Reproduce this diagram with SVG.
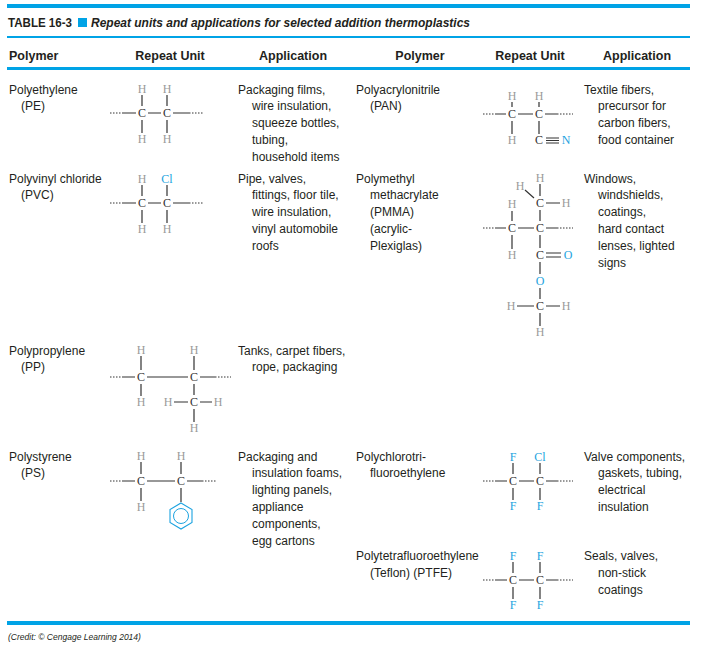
<svg xmlns="http://www.w3.org/2000/svg" width="704" height="649" viewBox="0 0 704 649">
<style>
text{font-family:"Liberation Sans",Arial,sans-serif;fill:#231f20}
.t{font-size:12px}
.h{font-size:12.5px;font-weight:bold}
.a{font-family:"Liberation Serif","DejaVu Serif",serif;font-size:12px;text-anchor:middle;dominant-baseline:central}
.H{fill:#9a9a9a}.C{fill:#333}.B{fill:#1ca3e0}
.b{stroke:#333;stroke-width:1.2;fill:none}
.d{stroke:#333;stroke-width:1;stroke-dasharray:1.5 1.5;fill:none}
.bar{fill:#00a3e6}
</style>
<rect width="704" height="649" fill="#fff"/>
<rect class="bar" x="7" y="4" width="683" height="4"/>
<text x="8" y="27" class="h" textLength="64" lengthAdjust="spacingAndGlyphs">TABLE 16-3</text>
<rect class="bar" x="78" y="18" width="9" height="9"/>
<text x="91" y="27" class="h" font-style="italic" textLength="379" lengthAdjust="spacingAndGlyphs">Repeat units and applications for selected addition thermoplastics</text>
<rect class="bar" x="7" y="36" width="683" height="2"/>
<g class="h">
<text x="9" y="60">Polymer</text>
<text x="170" y="60" text-anchor="middle">Repeat Unit</text>
<text x="293" y="60" text-anchor="middle">Application</text>
<text x="420" y="60" text-anchor="middle">Polymer</text>
<text x="530" y="60" text-anchor="middle">Repeat Unit</text>
<text x="637" y="60" text-anchor="middle">Application</text>
</g>
<rect class="bar" x="7" y="67" width="683" height="3"/>
<rect class="bar" x="7" y="621" width="683" height="4"/>
<text x="8" y="640" font-size="8.5" font-style="italic">(Credit: © Cengage Learning 2014)</text>

<g class="t">
<text x="9" y="94">Polyethylene</text><text x="21" y="110">(PE)</text>
<text x="238" y="94">Packaging films,</text><text x="252" y="110">wire insulation,</text><text x="252" y="127">squeeze bottles,</text><text x="252" y="144">tubing,</text><text x="252" y="161">household items</text>
<text x="356" y="94">Polyacrylonitrile</text><text x="370" y="110">(PAN)</text>
<text x="584" y="94">Textile fibers,</text><text x="598" y="110">precursor for</text><text x="598" y="127">carbon fibers,</text><text x="598" y="144">food container</text>

<text x="9" y="183">Polyvinyl chloride</text><text x="21" y="199">(PVC)</text>
<text x="238" y="183">Pipe, valves,</text><text x="252" y="199">fittings, floor tile,</text><text x="252" y="216">wire insulation,</text><text x="252" y="233">vinyl automobile</text><text x="252" y="250">roofs</text>
<text x="356" y="183">Polymethyl</text><text x="370" y="199">methacrylate</text><text x="370" y="216">(PMMA)</text><text x="370" y="233">(acrylic-</text><text x="370" y="250">Plexiglas)</text>
<text x="584" y="183">Windows,</text><text x="598" y="199">windshields,</text><text x="598" y="216">coatings,</text><text x="598" y="233">hard contact</text><text x="598" y="250">lenses, lighted</text><text x="598" y="267">signs</text>

<text x="9" y="355">Polypropylene</text><text x="21" y="371">(PP)</text>
<text x="238" y="355">Tanks, carpet fibers,</text><text x="252" y="371">rope, packaging</text>

<text x="9" y="461">Polystyrene</text><text x="21" y="477">(PS)</text>
<text x="238" y="461">Packaging and</text><text x="252" y="477">insulation foams,</text><text x="252" y="494">lighting panels,</text><text x="252" y="511">appliance</text><text x="252" y="528">components,</text><text x="252" y="545">egg cartons</text>
<text x="356" y="461">Polychlorotri-</text><text x="370" y="477">fluoroethylene</text>
<text x="584" y="461">Valve components,</text><text x="598" y="477">gaskets, tubing,</text><text x="598" y="494">electrical</text><text x="598" y="511">insulation</text>

<text x="356" y="560">Polytetrafluoroethylene</text><text x="370" y="577">(Teflon) (PTFE)</text>
<text x="584" y="560">Seals, valves,</text><text x="598" y="577">non-stick</text><text x="598" y="594">coatings</text>
</g>

<g id="connectors">
<path class="d" d="M110 113H122M189 113H203"/>
<path class="b" d="M122 113H136M148 113H161M173 113H189M142 95V106M142 120V133M167 95V106M167 120V133"/>
<path class="d" d="M110 203H122M189 203H203"/>
<path class="b" d="M122 203H136M148 203H161M173 203H189M142 185V196M142 210V223M167 185V196M167 210V223"/>
<path class="d" d="M483 114H496M557 114H573"/>
<path class="b" d="M496 114H506M518 114H533M545 114H557M512 102V107M512 121V134M539 102V107M539 121V134"/>
<path class="b" stroke-width="0.9" d="M546 138H559M546 140.5H559M546 143H559"/>
<path class="d" d="M483 228H496M557 228H573"/>
<path class="b" d="M496 228H506M518 228H534M546 228H557M512 211V221M512 235V249M540 184V196M540 210V221M540 235V248M525 190L534 198M546 203H560M540 262V274M540 288V299M517 306H534M546 306H560M540 313V326"/>
<path class="b" stroke-width="1" d="M546 253H561M546 257H561"/>
<path class="d" d="M110 377H122M215 377H231"/>
<path class="b" d="M122 377H135M147 377H188M200 377H215M141 356V370M141 384V396M194 356V370M194 384V395M174 402H188M200 402H212M194 409V422"/>
<path class="d" d="M110 481H122M202 481H216"/>
<path class="b" d="M122 481H135M147 481H175M187 481H202M141 462V474M141 488V501M181 462V474M181 488V502"/>
<path class="d" d="M483 481H496M557 481H573"/>
<path class="b" d="M496 481H507M519 481H534M546 481H557M513 463V474M513 488V500M540 463V474M540 488V500"/>
<path class="d" d="M483 580H496M557 580H573"/>
<path class="b" d="M496 580H507M519 580H534M546 580H557M513 562V573M513 587V599M540 562V573M540 587V599"/>
</g>

<g id="PE">
<text x="142" y="89" class="a H">H</text><text x="167" y="89" class="a H">H</text>
<text x="142" y="113" class="a C">C</text><text x="167" y="113" class="a C">C</text>
<text x="142" y="139" class="a H">H</text><text x="167" y="139" class="a H">H</text>
</g>
<g id="PVC">
<text x="142" y="179" class="a H">H</text><text x="167" y="179" class="a B">Cl</text>
<text x="142" y="203" class="a C">C</text><text x="167" y="203" class="a C">C</text>
<text x="142" y="229" class="a H">H</text><text x="167" y="229" class="a H">H</text>
</g>
<g id="PAN">
<text x="512" y="96" class="a H">H</text><text x="539" y="96" class="a H">H</text>
<text x="512" y="114" class="a C">C</text><text x="539" y="114" class="a C">C</text>
<text x="512" y="140" class="a H">H</text><text x="539" y="140" class="a C">C</text><text x="566" y="140" class="a B">N</text>
</g>
<g id="PMMA">
<text x="540" y="178" class="a H">H</text><text x="520" y="186" class="a H">H</text>
<text x="540" y="203" class="a C">C</text><text x="566" y="203" class="a H">H</text>
<text x="512" y="204" class="a H">H</text>
<text x="512" y="228" class="a C">C</text><text x="540" y="228" class="a C">C</text>
<text x="512" y="255" class="a H">H</text><text x="540" y="255" class="a C">C</text><text x="568" y="255" class="a B">O</text>
<text x="540" y="281" class="a B">O</text>
<text x="511" y="306" class="a H">H</text><text x="540" y="306" class="a C">C</text><text x="566" y="306" class="a H">H</text>
<text x="540" y="332" class="a H">H</text>
</g>
<g id="PP">
<text x="141" y="350" class="a H">H</text><text x="194" y="350" class="a H">H</text>
<text x="141" y="377" class="a C">C</text><text x="194" y="377" class="a C">C</text>
<text x="141" y="402" class="a H">H</text><text x="168" y="402" class="a H">H</text><text x="194" y="402" class="a C">C</text><text x="218" y="402" class="a H">H</text>
<text x="194" y="428" class="a H">H</text>
</g>
<g id="PS">
<text x="141" y="456" class="a H">H</text><text x="181" y="456" class="a H">H</text>
<text x="141" y="481" class="a C">C</text><text x="181" y="481" class="a C">C</text>
<text x="141" y="507" class="a H">H</text>
<path d="M181 503L192 509.5V522.5L181 529L170 522.5V509.5Z" fill="none" stroke="#1ca3e0" stroke-width="1.1"/>
<circle cx="181" cy="516" r="7.5" fill="none" stroke="#1ca3e0" stroke-width="1"/>
</g>
<g id="PCTFE">
<text x="513" y="457" class="a B">F</text><text x="540" y="457" class="a B">Cl</text>
<text x="513" y="481" class="a C">C</text><text x="540" y="481" class="a C">C</text>
<text x="513" y="506" class="a B">F</text><text x="540" y="506" class="a B">F</text>
</g>
<g id="PTFE">
<text x="513" y="556" class="a B">F</text><text x="540" y="556" class="a B">F</text>
<text x="513" y="580" class="a C">C</text><text x="540" y="580" class="a C">C</text>
<text x="513" y="605" class="a B">F</text><text x="540" y="605" class="a B">F</text>
</g>
</svg>
